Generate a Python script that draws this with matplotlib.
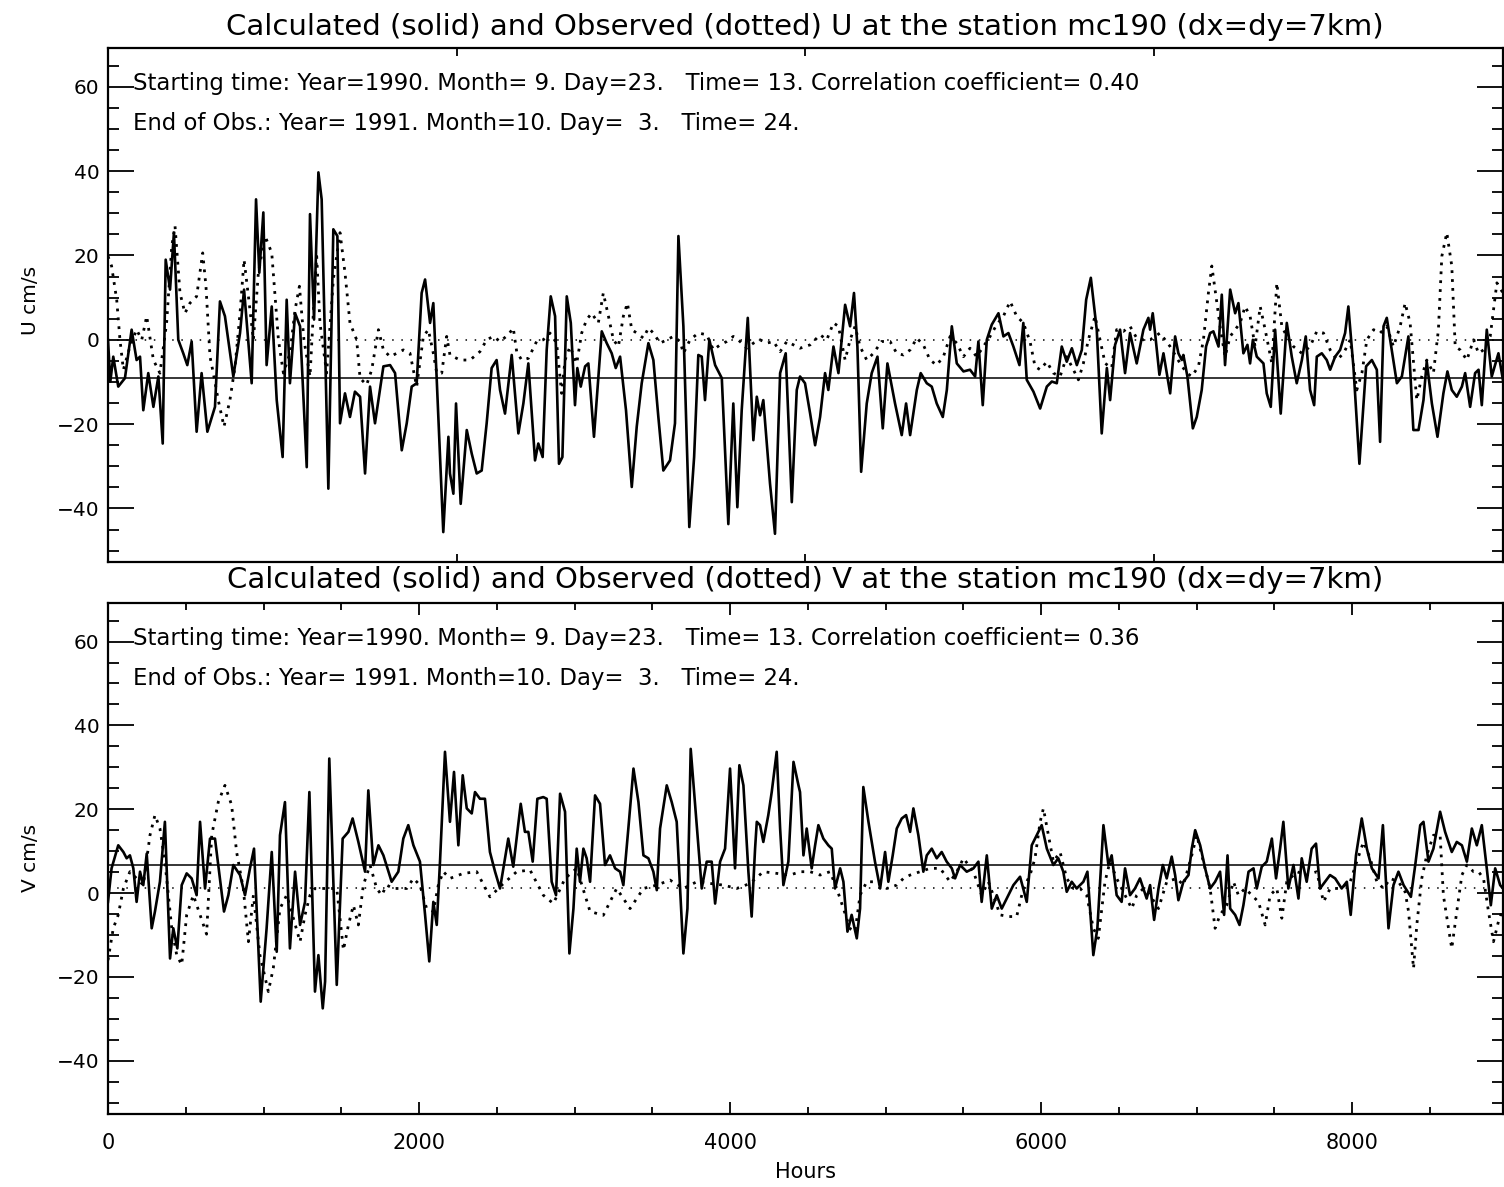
import matplotlib
matplotlib.use("Agg")
import matplotlib.pyplot as plt
from matplotlib.ticker import MultipleLocator, NullLocator

# ---- U component (top panel): hours and cm/s ----
U_CALC_H = [0, 15, 34, 66, 109, 152, 184, 206, 227, 259, 292, 324, 352, 371, 399, 424, 452, 484, 510, 538,
            570, 602, 639, 688, 720, 752, 806, 849, 875, 924, 952, 973, 999, 1020, 1053, 1085, 1123, 1149, 1170, 1203,
            1235, 1278, 1299, 1325, 1353, 1374, 1417, 1449, 1475, 1492, 1524, 1556, 1588, 1621, 1653, 1685, 1717, 1771, 1814, 1846,
            1889, 1921, 1953, 1985, 2017, 2039, 2071, 2092, 2114, 2156, 2189,
            2199, 2221, 2238, 2268, 2307, 2339, 2371, 2403, 2435, 2467, 2499, 2521, 2553, 2596, 2639, 2671, 2703, 2746, 2767, 2795,
            2821, 2847, 2875, 2900, 2922, 2950, 2976, 3003, 3018, 3040, 3068, 3089, 3125, 3175, 3207, 3239, 3265, 3293, 3331, 3368,
            3400, 3432, 3475, 3507, 3539, 3571, 3614, 3646, 3668, 3700, 3738, 3769, 3796, 3818, 3839, 3867, 3904, 3947, 3989, 4021,
            4047, 4075, 4114, 4150, 4172, 4193, 4214, 4257, 4289, 4322, 4358, 4397, 4429,
            4450, 4482, 4515, 4547, 4579, 4611, 4632, 4665, 4697, 4718, 4740, 4772, 4797, 4819, 4843, 4879, 4911, 4948, 4982, 5012,
            5061, 5104, 5132, 5158, 5201, 5226, 5265, 5297, 5329, 5368, 5394, 5426, 5458, 5501, 5543, 5576, 5597, 5625, 5651, 5683,
            5726, 5758, 5790, 5822, 5861, 5886, 5908, 5951, 5994, 6037, 6069, 6101, 6133, 6165, 6198, 6230, 6262, 6290, 6320, 6358,
            6390, 6423, 6444, 6476, 6508, 6540, 6572, 6615, 6658, 6690,
            6701, 6718, 6733, 6761, 6787, 6808, 6830, 6862, 6883, 6905, 6915, 6941, 6976, 7001, 7033, 7061, 7087, 7108, 7141, 7162,
            7183, 7216, 7248, 7269, 7301, 7327, 7344, 7362, 7387, 7430, 7451, 7477, 7505, 7541, 7580, 7612, 7644, 7677, 7702, 7730,
            7756, 7773, 7805, 7837, 7859, 7891, 7923, 7955, 7976, 8009, 8047, 8090, 8127, 8159, 8180, 8202, 8223, 8255, 8288, 8320,
            8362, 8394, 8427, 8459, 8480, 8513, 8549, 8587, 8613, 8641, 8673, 8706, 8727, 8759, 8791, 8813, 8834, 8866, 8898, 8941,
            8970]
U_CALC = [0, -9.9, -4, -11.1, -9.1, 2.4, -4.8, -4, -16.7, -7.9, -15.9, -8.7, -24.6, 19, 11.9, 25.4, 0, -3.2, -6, -0.4,
          -21.8, -7.9, -21.8, -15.9, 9.1, 5.6, -8.7, 1.6, 11.9, -10.3, 33.3, 15.9, 30.2, -6, 7.9, -14.3, -27.8, 9.5, -10.3, 6.3,
          3.2, -30.2, 29.8, 4.8, 39.7, 33.3, -35.3, 26.2, 24.6, -19.8, -12.7, -18.3, -12.3, -13.5, -31.7, -11.1, -19.8, -6.3, -6, -7.9,
          -26.2, -19.8, -11.1, -10.3, 11.1, 14.3, 4, 8.7, -9.5, -45.6, -23,
          -31.7, -36.5, -15.1, -38.9, -21.4, -27, -31.7, -31, -19.8, -6.7, -4.8, -11.9, -17.5, -3.6, -22.2, -15.1, -5.6, -28.6, -24.6, -27.8,
          -2.4, 10.3, 5.6, -29.4, -27.8, 10.3, 4, -15.5, -6.7, -11.1, -6.3, -5.6, -23, 2, -0.8, -3.2, -6.7, -4, -16.7, -34.9,
          -20.6, -10.3, -0.8, -4.8, -18.3, -31, -28.6, -19.8, 24.6, 3.2, -44.4, -27.8, -3.6, -4, -14.3, 0, -6, -9.1, -43.7, -15.1,
          -39.7, -16.7, 5.2, -23.8, -13.5, -17.9, -14.3, -34.1, -46, -7.9, -3.2, -38.5, -11.9,
          -8.7, -10.3, -17.5, -25, -18.3, -7.9, -11.9, -1.6, -7.9, 0, 8.3, 3.2, 11.1, -1.6, -31.3, -15.1, -7.9, -4, -21, -5.6,
          -15.1, -22.6, -15.1, -22.6, -11.9, -7.9, -10.3, -11.1, -15.1, -18.3, -11.9, 3.2, -5.6, -7.5, -7.1, -8.7, -0.4, -15.5, 0, 3.6,
          6.3, 0.8, 1.6, -1.6, -6, 4, -9.5, -12.3, -16.3, -11.1, -9.9, -10.3, -1.6, -5.2, -2, -6, -2.4, 9.5, 14.7, 2.4,
          -22.2, -6.7, -14.3, -1.2, 2.4, -7.9, 1.6, -5.6, 2.4, 5.2,
          2.4, 6.3, 1.6, -8.3, -3.2, -7.9, -12.7, 0.8, -3.2, -4.8, -3.6, -8.7, -21, -18.3, -11.9, -1.6, 1.6, 2, -1.6, 10.7,
          -6, 11.9, 6.3, 8.7, -3.2, -1.2, -5.6, 0, -4, -5.6, -12.7, -15.9, 2.4, -17.5, 4, -4, -10.3, -4.8, 0.8, -11.9,
          -15.5, -4, -3.2, -4.8, -7.1, -4, -2.4, 1.6, 7.9, -6.7, -29.4, -6.3, -4.8, -7.1, -24.2, 3.2, 5.2, -2.4, -10.3, -8.7,
          0.8, -21.4, -21.4, -14.3, -5.2, -15.1, -23, -12.7, -7.5, -11.9, -13.5, -11.1, -7.9, -15.9, -7.9, -7.1, -15.5, 2.4, -8.7, -3.2,
          -9.5]

U_OBS_H = [0, 23, 56, 77, 99, 141, 184, 217, 249, 292, 334, 377, 410, 431, 463, 495, 527, 570, 609, 630,
           656, 677, 709, 746, 784, 817, 849, 875, 903, 935, 967, 1010, 1053, 1096, 1128, 1170, 1203, 1231, 1260, 1299,
           1325, 1342, 1363, 1406, 1449, 1492, 1524, 1556, 1599, 1621, 1663, 1696, 1739, 1771, 1814, 1857, 1899, 1942, 1985, 2028,
           2060, 2092, 2114, 2146, 2178,
           2199, 2264, 2328, 2392, 2435, 2478, 2521, 2574, 2606, 2628, 2660, 2703, 2756, 2799, 2842, 2885, 2917, 2939, 2971, 3014,
           3046, 3078, 3110, 3153, 3185, 3218, 3250, 3282, 3314, 3340, 3368, 3400, 3443, 3475, 3507, 3550, 3593, 3636, 3679, 3700,
           3743, 3796, 3850, 3893, 3936, 3979, 4021, 4064, 4107, 4150, 4193, 4236, 4279, 4322, 4365, 4408,
           4450, 4515, 4579, 4622, 4665, 4697, 4740, 4772, 4804, 4836, 4879, 4922, 4975, 5029, 5072, 5115, 5158, 5201, 5243, 5286,
           5329, 5372, 5415, 5458, 5501, 5543, 5586, 5629, 5672, 5715, 5758, 5801, 5843, 5886, 5929, 5961, 5994, 6037, 6079, 6122,
           6165, 6208, 6240, 6272, 6304, 6347, 6379, 6412, 6454, 6486, 6529, 6572, 6615, 6658,
           6701, 6765, 6830, 6894, 6937, 6969, 7012, 7044, 7076, 7098, 7119, 7151, 7183, 7216, 7248, 7280, 7312, 7344, 7376, 7409,
           7441, 7484, 7516, 7548, 7580, 7623, 7677, 7730, 7773, 7816, 7859, 7902, 7945, 7988, 8030, 8063, 8095, 8138, 8180, 8223,
           8266, 8309, 8341, 8373, 8416, 8448, 8480, 8523, 8555, 8577, 8609, 8641, 8663, 8695, 8738, 8781, 8813, 8845, 8888, 8931,
           8970]
U_OBS = [19.8, 17.5, 9.5, 0, -7.1, -1.6, 2.4, 0, 5.6, -4.8, -7.9, 4, 22.2, 27, 11.1, 6.3, 8.7, 10.3, 20.6, 12.7,
         -4, -7.9, -14.3, -20.6, -14.3, -6.3, 6.3, 19, 10.3, 0, 15.9, 24.6, 20.6, 0, -7.9, -3.2, 7.1, 12.7, 0, -8.7,
         9.5, 19.8, 4, -7.9, 14.3, 25.4, 15.9, 4, 0, -9.1, -10.7, -7.1, 2.4, -2.4, -4, -3.2, -2.4, -3.2, -11.1, 0.8,
         2.4, -3.2, -7.9, -7.9, 0.8,
         -3.6, -4.8, -4.8, -2.8, 0, 0.8, -0.4, 1.2, 2.8, -2.8, -4.8, -4.4, -0.4, 0, 1.6, -0.8, -12.7, -4.8, -1.6, -5.6,
         1.6, 4.8, 6.3, 4, 11.1, 5.6, 0, -1.6, 5.6, 8.7, 2.4, 1.6, 0.4, 2.8, 1.6, -0.8, 0, 0.8, -0.4, -3.2,
         0, 1.6, 1.2, -2.4, -1.2, -0.4, 0.8, -0.4, -2, -0.8, 0, -0.8, -0.4, -2.8, -0.4, -1.2,
         -2, -1.2, 1.2, 0, 4, 3.2, -4.8, 0, 3.2, -1.6, -4.8, -3.2, -0.4, -0.4, -3.2, -3.6, -2.4, 0.4, -1.2, -4.8,
         -6, -4, 0.8, -0.8, -4, -2, -4, -1.6, 0.8, 3.6, 5.6, 9.1, 5.6, 4, -0.4, -6.3, -7.1, -5.2, -7.9, -8.7,
         -4, -7.1, -9.5, -5.6, 0, 5.6, 0, -5.6, -6.7, 2.4, 2, 3.2, 0.4, 0,
         0, 1.6, -1.6, -5.6, -7.9, -8.7, -6.3, 0, 11.1, 17.5, 11.9, 3.2, -4, 0.8, 2.4, 4, 7.9, 5.6, -1.6, 7.9,
         2.4, -5.6, 13.5, 3.2, 0.8, -1.6, -3.2, -1.6, 2, 1.6, -2.4, -4.8, -3.2, 0, -11.9, -7.9, 0, 2.4, 1.6, 3.2,
         -1.6, 3.2, 8.7, 4, -14.3, -8.7, -4.8, -7.9, 2.4, 19.8, 25.4, 17.5, -1.6, -2.4, -4.8, 0, -3.2, -2.4, 0.8, 13.5,
         11.1]

# ---- V component (bottom panel) ----
V_CALC_H = [0, 23, 66, 99, 120, 141, 163, 184, 206, 227, 249, 281, 302, 334, 366, 399, 420, 446, 474, 506,
            538, 570, 592, 624, 656, 688, 720, 746, 774, 806, 849, 881, 913, 939, 982, 1020, 1053, 1085, 1106, 1138,
            1170, 1203, 1235, 1267, 1295, 1331, 1353, 1381, 1396, 1423, 1471, 1509, 1546, 1573, 1610, 1653, 1674, 1706, 1739, 1771,
            1824, 1867, 1899, 1931, 1964, 2006, 2039, 2066, 2092, 2114, 2135, 2167,
            2199, 2225, 2253, 2281, 2307, 2339, 2360, 2392, 2424, 2456, 2489, 2521, 2553, 2574, 2606, 2654, 2681, 2703, 2731, 2761,
            2799, 2821, 2853, 2881, 2907, 2939, 2967, 2993, 3014, 3035, 3057, 3078, 3100, 3132, 3164, 3196, 3228, 3261, 3293, 3314,
            3346, 3379, 3411, 3443, 3475, 3507, 3529, 3550, 3593, 3625, 3657, 3700, 3726, 3747, 3786, 3818, 3850, 3882, 3904, 3936,
            3968, 4000, 4032, 4060, 4086, 4118, 4139, 4161, 4172, 4193, 4214, 4246, 4268, 4300, 4322, 4343, 4375, 4408, 4440,
            4450, 4472, 4493, 4525, 4547, 4568, 4600, 4632, 4654, 4675, 4708, 4729, 4755, 4782, 4815, 4836, 4857, 4890, 4932, 4965,
            4997, 5018, 5046, 5072, 5104, 5132, 5158, 5179, 5211, 5243, 5265, 5297, 5329, 5361, 5393, 5426, 5447, 5479, 5522, 5565,
            5597, 5618, 5651, 5683, 5715, 5747, 5779, 5822, 5865, 5908, 5940, 5983, 6004, 6037, 6079, 6111, 6143, 6165, 6197, 6229,
            6272, 6298, 6336, 6362, 6401, 6433, 6454, 6486, 6518, 6540, 6572, 6604, 6636, 6679,
            6701, 6727, 6755, 6783, 6808, 6840, 6862, 6883, 6915, 6948, 6969, 6991, 7023, 7055, 7087, 7119, 7151, 7177, 7199, 7216,
            7248, 7276, 7301, 7334, 7366, 7387, 7419, 7451, 7484, 7511, 7537, 7558, 7590, 7623, 7655, 7676, 7708, 7740, 7768, 7794,
            7826, 7858, 7891, 7933, 7966, 7991, 8025, 8062, 8095, 8127, 8170, 8198, 8234, 8266, 8298, 8331, 8378, 8406, 8438, 8459,
            8491, 8523, 8566, 8598, 8641, 8673, 8706, 8738, 8770, 8802, 8834, 8866, 8892, 8920, 8952, 8970]
V_CALC = [-2.1, 5.9, 11.4, 9.8, 8.3, 9, 5.9, -2.1, 5.1, 1.9, 9.4, -8.4, -4.4, 2.7, 17, -15.6, -8.4, -13.2, 1.9, 4.7,
          3.5, -0.5, 17, 1.1, 13, 13, 3.5, -4.4, -0.5, 6.7, 4.3, -0.5, 5.9, 10.6, -25.9, -8.4, 9.8, -14, 13.8, 21.7,
          -13.2, 5.1, -7.6, -2.1, 24.1, -23.5, -14.8, -27.5, -21.1, 32.1, -21.9, 13, 14.6, 17.8, 12.2, 5.1, 24.5, 6.7, 11.4, 9,
          2.7, 5.1, 13, 16.2, 11.4, 7.5, -5.2, -16.3, -2.1, -7.6, 7.5, 33.7,
          17, 28.9, 11.4, 28.1, 20.2, 19, 24.1, 22.5, 22.5, 9.8, 5.1, 1.1, 8.3, 13, 6.3, 21.3, 14.6, 14.6, 7.5, 22.5,
          22.9, 22.5, 2.7, -0.5, 23.7, 19.4, -14.4, -3.7, 10.6, 2.7, 10.6, 8.3, 2.7, 23.3, 21.3, 6.7, 9, 5.9, 5.1, 1.9,
          15.4, 29.7, 21.7, 9, 8.3, 5.1, 0.7, 15.4, 25.7, 21.7, 17, -14.4, -3.7, 34.4, 16.2, 1.1, 7.5, 7.5, -2.5, 7.5,
          10.6, 29.7, 5.9, 30.5, 25.7, 5.1, -5.6, 10.6, 17, 16.2, 12.2, 18.6, 24.1, 33.7, 15.4, 1.9, 7.5, 31.3, 25.7,
          24.1, 9, 15.4, 5.9, 11.4, 16.2, 13, 11.4, 10.6, 1.1, 5.9, 2.7, -9.2, -5.2, -10.8, -3.7, 25.3, 17, 7.5, 1.1,
          9.8, 2.7, 9, 15.4, 17.8, 18.6, 14.6, 20.2, 13.8, 5.1, 9, 10.6, 8.3, 9.8, 7.5, 5.9, 3.5, 6.7, 5.1, 5.9,
          7.5, -2.1, 9, -3.7, -0.5, -3.7, -1.3, 1.9, 3.9, -2.1, 11.4, 14.6, 16.2, 10.6, 6.7, 8.3, 5.1, 0.3, 2.7, 1.1,
          2.7, 5.1, -14.8, -8.4, 16.2, 6.7, 9, -0.5, -2.1, 5.9, -0.5, 1.1, 3.5, -1.3,
          1.9, -6.4, 1.1, 6.7, 3.5, 8.7, 4.3, -1.7, 2.7, 4.3, 10.6, 15, 11.4, 5.9, 1.1, 2.7, 5.1, -5.2, 9, -3.7,
          -5.2, -7.6, -2.9, 5.1, 5.9, 1.1, 6.3, 7.5, 13, 3.5, 10.6, 17, 1.1, 6.7, -1.3, 8.3, 2.7, 10.6, 11.8, 1.1,
          2.7, 4.3, 3.5, 1.1, 2.7, -5.2, 9, 17.8, 10.6, 5.9, 3.5, 16.2, -8.4, 1.9, 5.1, 1.9, -0.9, 6.7, 16.2, 17,
          7.5, 10.6, 19.4, 14.6, 9.8, 12.2, 11.4, 7.5, 15.4, 11.4, 16.2, 5.9, -2.9, 5.9, 1.9, 1.1]

V_OBS_H = [0, 34, 66, 99, 141, 184, 227, 270, 302, 334, 366, 410, 442, 474, 506, 549, 592, 634, 667, 709,
           752, 795, 827, 870, 903, 935, 977, 1031, 1063, 1106, 1149, 1192, 1235, 1267, 1299, 1331, 1374, 1428, 1471, 1514,
           1546, 1578, 1610, 1642, 1685, 1728, 1760, 1792, 1835, 1878, 1921, 1964, 2006, 2049, 2092, 2124, 2156,
           2199, 2285, 2371, 2456, 2532, 2628, 2714, 2799, 2864, 2939, 3014, 3100, 3185, 3271, 3357, 3443, 3529, 3614, 3700, 3786,
           3871, 3957, 4043, 4129, 4214, 4300, 4386,
           4450, 4515, 4579, 4643, 4686, 4729, 4772, 4804, 4836, 4879, 4943, 5008, 5072, 5115, 5158, 5222, 5286, 5351, 5415, 5458,
           5501, 5565, 5618, 5661, 5693, 5736, 5790, 5843, 5886, 5929, 5961, 5994, 6015, 6047, 6079, 6122, 6165, 6208, 6251, 6293,
           6336, 6368, 6411, 6443, 6486, 6540, 6583, 6615, 6658,
           6701, 6755, 6808, 6873, 6915, 6969, 7001, 7044, 7087, 7119, 7151, 7194, 7237, 7269, 7312, 7355, 7398, 7441, 7473, 7516,
           7548, 7580, 7644, 7709, 7773, 7816, 7859, 7923, 7988, 8030, 8073, 8116, 8159, 8202, 8245, 8298, 8341, 8363, 8384, 8395,
           8416, 8448, 8480, 8523, 8566, 8587, 8620, 8641, 8673, 8706, 8738, 8781, 8813, 8845, 8877, 8909, 8941, 8970]
V_OBS = [-16, -8.4, -5.2, 1.1, 5.1, 3.5, 1.9, 13.8, 18.6, 15.4, 7.5, -8.4, -14.8, -17.1, -5.2, -0.5, -5.2, -9.8, 13.8, 21.7,
         25.7, 21, 9.8, 1.1, -11.6, -0.5, -14.8, -23.5, -17.9, -3.7, -0.5, -6, -11.6, -5.2, -0.5, 1.1, 1.1, 1.1, 1.1, -13.6,
         -7.6, -2.9, -7.6, 1.9, 6.7, 1.1, -0.5, 1.9, 1.1, 1.1, 1.1, 3.5, 1.9, -3.7, -4.4, 1.9, 5.1,
         3.5, 4.7, 5.1, -0.9, 1.9, 5.1, 5.5, -0.5, -2.5, 3.5, 5.9, -4.4, -5.3, 1.1, -3.7, 1.1, 1.9, 3.1, 1.1, 2.7,
         2.3, 1.9, 1.1, 2.3, 5.1, 4.7, 4.3,
         5.1, 5.1, 4.3, 5.1, 1.1, -3.7, -8.5, -9.2, -0.5, 2.7, 2.7, 1.1, 1.9, 3.5, 4.3, 5.1, 5.9, 5.9, 2.7, 5.1,
         8.3, 5.1, -0.5, 2.7, -0.5, -5.2, -5.6, -5.6, 1.1, 4.3, 8.3, 17, 20.2, 13.8, 7.5, 9.8, 3.5, 1.1, 1.1, -0.5,
         -8.4, -10.8, 2.7, 7.5, 3.5, -0.5, -3.7, -0.5, 1.1,
         -0.5, -3.7, 2.7, 3.5, 1.9, 9, 13.8, 7.5, 1.1, -8.4, -5.2, -2.9, 2.7, -0.5, 1.1, -0.5, -2.1, -7.6, -0.5, 1.1,
         -6, 2.7, 5.1, 4.3, 5.1, -2.1, 1.1, 1.1, 2.7, 7.5, 12.2, 8.3, 2.7, 1.1, 3.5, 2.7, 0.3, -4.4, -13.3, -18,
         -7.6, 3.5, 9, 13.8, 13.8, -0.5, -8.4, -13.2, -4.4, 4.3, 6.7, 5.1, 5.1, 3.5, -4.4, -11.6, -6.8, -3.7]

# record means (horizontal reference lines) and correlations
U_MEAN_CALC, U_MEAN_OBS, U_CORR = -9.1, 0.0, 0.40
V_MEAN_CALC, V_MEAN_OBS, V_CORR = 6.8, 1.3, 0.36

T_END = 8970
YLIM = (-52.7, 69.2)
START = "Starting time: Year=1990. Month= 9. Day=23.   Time= 13. Correlation coefficient= {:.2f}"
END = "End of Obs.: Year= 1991. Month=10. Day=  3.   Time= 24."

fig = plt.figure(figsize=(15.04, 11.87), dpi=100)
ax_u = fig.add_axes([0.0718, 0.5265, 0.9275, 0.4331])
ax_v = fig.add_axes([0.0718, 0.0615, 0.9275, 0.4305])


def panel(ax, h_c, v_c, h_o, v_o, m_c, m_o, corr):
    ax.plot(h_c, v_c, "-", color="black", lw=1.9, zorder=3)
    ax.plot(h_o, v_o, color="black", lw=2.0, ls=(0, (1, 2.2)), zorder=2)
    ax.axhline(m_c, color="black", lw=1.1, zorder=1)
    ax.axhline(m_o, color="black", lw=1.1, ls=(0, (1, 5)), zorder=1)
    ax.set_xlim(0, T_END)
    ax.set_ylim(*YLIM)
    ax.yaxis.set_major_locator(MultipleLocator(20))
    ax.yaxis.set_minor_locator(MultipleLocator(5))
    ax.tick_params(axis="y", which="major", direction="in", length=19, width=1.3,
                   left=True, right=True, labelsize=14.5, pad=6)
    ax.tick_params(axis="y", which="minor", direction="in", length=8, width=1.3,
                   left=True, right=True)
    for s in ax.spines.values():
        s.set_linewidth(1.6)
    ax.text(0.018, 0.931, START.format(corr), transform=ax.transAxes,
            fontsize=16.4, va="center", ha="left")
    ax.text(0.018, 0.853, END, transform=ax.transAxes,
            fontsize=16.4, va="center", ha="left")


panel(ax_u, U_CALC_H, U_CALC, U_OBS_H, U_OBS, U_MEAN_CALC, U_MEAN_OBS, U_CORR)
panel(ax_v, V_CALC_H, V_CALC, V_OBS_H, V_OBS, V_MEAN_CALC, V_MEAN_OBS, V_CORR)

# top panel: unlabeled ticks at quarters of the record
ax_u.set_xticks([T_END / 4, T_END / 2, 3 * T_END / 4])
ax_u.xaxis.set_minor_locator(NullLocator())
ax_u.tick_params(axis="x", which="major", direction="in", length=6, width=1.3,
                 top=True, bottom=True, labelbottom=False)

ax_v.xaxis.set_major_locator(MultipleLocator(2000))
ax_v.xaxis.set_minor_locator(MultipleLocator(500))
ax_v.tick_params(axis="x", which="major", direction="in", length=8.5, width=1.3,
                 top=True, bottom=True, labelsize=15, pad=14)
ax_v.tick_params(axis="x", which="minor", direction="in", length=5, width=1.3,
                 top=True, bottom=True)

fig.text(0.535, 1 - 27 / 1187,
         "Calculated (solid) and Observed (dotted) U at the station mc190 (dx=dy=7km)",
         ha="center", va="center", fontsize=21)
fig.text(0.535, 1 - 580 / 1187,
         "Calculated (solid) and Observed (dotted) V at the station mc190 (dx=dy=7km)",
         ha="center", va="center", fontsize=21)
fig.text(30 / 1504, 1 - 300 / 1187, "U cm/s", rotation=90, ha="center", va="center", fontsize=14.5)
fig.text(30 / 1504, 1 - 858 / 1187, "V cm/s", rotation=90, ha="center", va="center", fontsize=14.5)
fig.text(805 / 1504, 1 - 1172 / 1187, "Hours", ha="center", va="center", fontsize=15)

fig.savefig("out.png", dpi=100)
